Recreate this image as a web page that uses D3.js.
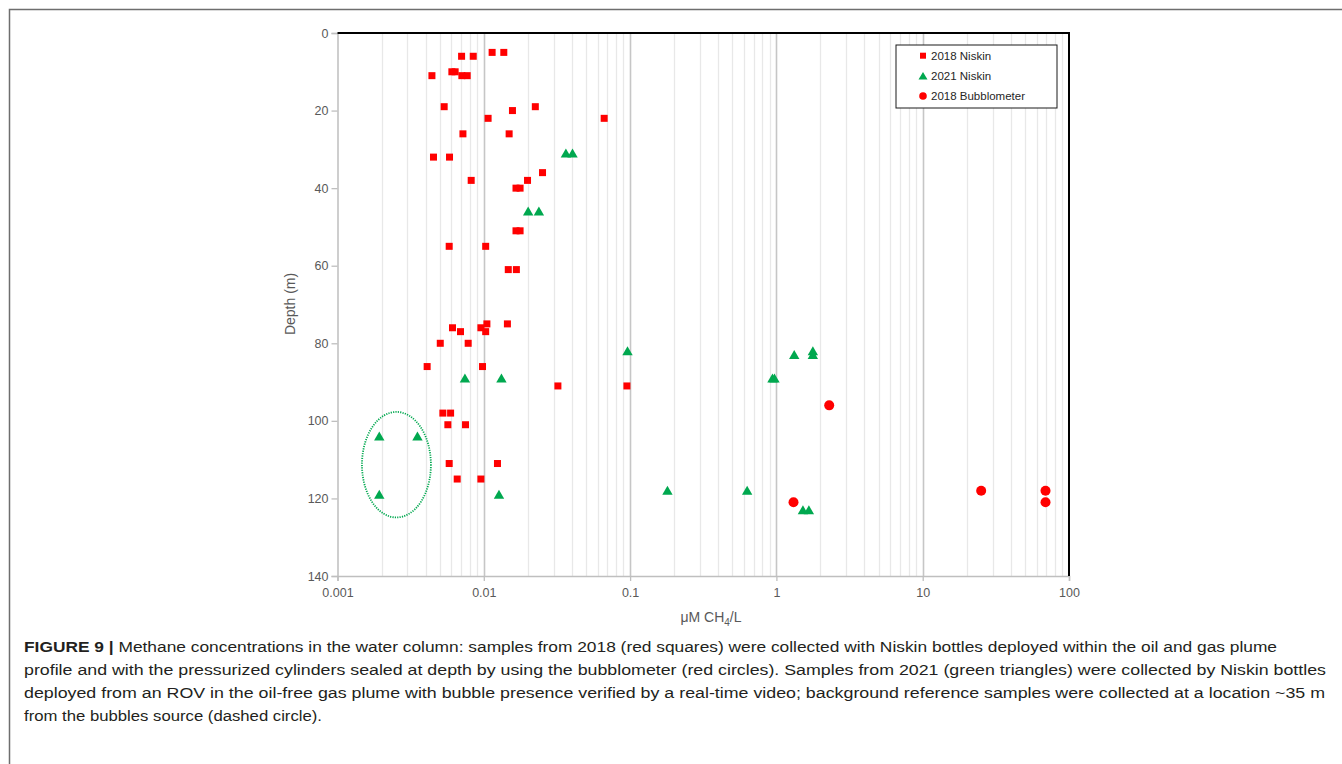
<!DOCTYPE html>
<html><head><meta charset="utf-8">
<script src="https://cdn.jsdelivr.net/npm/d3@7"></script>
<style>
body{margin:0;background:#fff;}
svg{display:block;}
</style></head>
<body>
<svg id="chart" width="1342" height="764"></svg>
<script>
// ---- data (concentration µM CH4/L, depth m) ----
const niskin2018 = [
  [0.00705,6],[0.00847,6],[0.0114,5],[0.0137,5],
  [0.00442,11],[0.00605,10],[0.00637,10],[0.00708,11],[0.0077,11],
  [0.00536,19],[0.0157,20],[0.0225,19],[0.0107,22],[0.0665,22],
  [0.0072,26],[0.0149,26],
  [0.00453,32],[0.00583,32],
  [0.0252,36],[0.0082,38],[0.0199,38],[0.0166,40],[0.0177,40],
  [0.0166,51],[0.0177,51],
  [0.0058,55],[0.0103,55],
  [0.0147,61],[0.0167,61],
  [0.00611,76],[0.00693,77],[0.00955,76],[0.0105,75],[0.0103,77],[0.0145,75],
  [0.00504,80],[0.00782,80],
  [0.0041,86],[0.0098,86],
  [0.0321,91],[0.0951,91],
  [0.00525,98],[0.00593,98],
  [0.00568,101],[0.0075,101],
  [0.0058,111],[0.0124,111],
  [0.00658,115],[0.00955,115]
];
const niskin2021 = [
  [0.0364,31],[0.0404,31],[0.0201,46],[0.0238,46],
  [0.096,82],[1.324,83],[1.775,82],[1.775,83],[0.94,89],[0.97,89],
  [0.00743,89],[0.0132,89],
  [0.00193,104],[0.00352,104],[0.00193,119],[0.0127,119],
  [0.180,118],[0.631,118],[1.518,123],[1.667,123]
];
const bubblometer2018 = [
  [2.296,96],[1.309,121],[25.1,118],[69.1,118],[69.1,121]
];
const xTicks = [0.001, 0.01, 0.1, 1, 10, 100];
const xTickLabels = ["0.001", "0.01", "0.1", "1", "10", "100"];
const yTicks = [0, 20, 40, 60, 80, 100, 120, 140];
const legendLabels = ["2018 Niskin", "2021 Niskin", "2018 Bubblometer"];
// background reference ellipse bounds: [xmin, xmax, depthTop, depthBottom]
const refEllipse = [0.00147, 0.00435, 97.7, 124.9];
const captionLines = [
  ["FIGURE 9 | ", "Methane concentrations in the water column: samples from 2018 (red squares) were collected with Niskin bottles deployed within the oil and gas plume"],
  ["", "profile and with the pressurized cylinders sealed at depth by using the bubblometer (red circles). Samples from 2021 (green triangles) were collected by Niskin bottles"],
  ["", "deployed from an ROV in the oil-free gas plume with bubble presence verified by a real-time video; background reference samples were collected at a location ~35 m"],
  ["", "from the bubbles source (dashed circle)."]
];

// ---- layout ----
const RED = "#FF0000", GREEN = "#00A84F";
const svg = d3.select("#chart");
const L = 337.5, R = 1069, T = 33, B = 576;
const x = d3.scaleLog().domain([0.001, 100]).range([L, R]);
const y = d3.scaleLinear().domain([0, 140]).range([T, B]);
const axisFont = "'Liberation Sans', Arial, sans-serif";

// outer frame
svg.append("path").attr("d", `M9.5,764 V9.5 H1342`).attr("fill","none")
  .attr("stroke","#6e6e6e").attr("stroke-width",1.5);

// gridlines (log minor + major)
const grid = [];
for (let k = -3; k < 2; k++) for (let m = 1; m < 10; m++) grid.push({v: m*Math.pow(10,k), major: m===1});
svg.append("g").selectAll("line").data(grid.filter(d => d.v > 0.001 && d.v < 100)).join("line")
  .attr("x1", d => Math.round(x(d.v))+0.5).attr("x2", d => Math.round(x(d.v))+0.5)
  .attr("y1", T).attr("y2", B)
  .attr("stroke", d => d.major ? "#c6c6c6" : "#e8e8e8").attr("stroke-width", d => d.major ? 1.6 : 1.3);

// left axis
const yAxis = d3.axisLeft(y).tickValues(yTicks).tickSize(6).tickPadding(6);
const gy = svg.append("g").attr("transform", `translate(${L},0)`).call(yAxis);
gy.select(".domain").attr("stroke","#bfbfbf").attr("stroke-width",1.5);
gy.selectAll(".tick line").attr("stroke","#bfbfbf").attr("stroke-width",1.3);
gy.selectAll(".tick text").attr("fill","#595959").attr("font-size",12.5).attr("font-family",axisFont).attr("x",-9);

// bottom axis
const xAxis = d3.axisBottom(x).tickValues(xTicks).tickFormat((d,i) => xTickLabels[i]).tickSize(5).tickPadding(7);
const gx = svg.append("g").attr("transform", `translate(0,${B})`).call(xAxis);
gx.select(".domain").attr("stroke","#bfbfbf").attr("stroke-width",1.5);
gx.selectAll(".tick line").attr("stroke","#bfbfbf").attr("stroke-width",1.3);
gx.selectAll(".tick text").attr("fill","#595959").attr("font-size",12.5).attr("font-family",axisFont);

// top & right black border
svg.append("path").attr("d", `M${L},${T} H${R} V${B}`).attr("fill","none")
  .attr("stroke","#000").attr("stroke-width",2);

// axis titles
svg.append("text").attr("transform", `translate(${295},${304}) rotate(-90)`)
  .attr("text-anchor","middle").attr("fill","#595959").attr("font-size",14)
  .attr("font-family",axisFont).text("Depth (m)");
const xt = svg.append("text").attr("x", 711).attr("y", 622).attr("text-anchor","middle")
  .attr("fill","#595959").attr("font-size",14).attr("font-family",axisFont);
xt.append("tspan").text("\u03BCM CH");
xt.append("tspan").attr("font-size",10).attr("dy",4).text("4");
xt.append("tspan").attr("dy",-4).text("/L");

// reference ellipse
svg.append("ellipse")
  .attr("cx", (x(refEllipse[0]) + x(refEllipse[1]))/2)
  .attr("cy", (y(refEllipse[2]) + y(refEllipse[3]))/2)
  .attr("rx", (x(refEllipse[1]) - x(refEllipse[0]))/2)
  .attr("ry", (y(refEllipse[3]) - y(refEllipse[2]))/2)
  .attr("fill","none").attr("stroke",GREEN).attr("stroke-width",1.8)
  .attr("stroke-dasharray","1.2,1.2");

// markers
const tri = "M0,-4.8 L5.2,4.2 L-5.2,4.2 Z";
const pts = svg.append("g");
pts.selectAll("rect.n18").data(niskin2018).join("rect").attr("class","n18")
  .attr("x", d => x(d[0]) - 3.5).attr("y", d => y(d[1]) - 3.5)
  .attr("width",7).attr("height",7).attr("fill",RED);
pts.selectAll("path.n21").data(niskin2021).join("path").attr("class","n21")
  .attr("transform", d => `translate(${x(d[0])},${y(d[1])})`).attr("d", tri).attr("fill",GREEN);
pts.selectAll("circle.bb").data(bubblometer2018).join("circle").attr("class","bb")
  .attr("cx", d => x(d[0])).attr("cy", d => y(d[1])).attr("r",5).attr("fill",RED);

// legend
const lg = svg.append("g");
lg.append("rect").attr("x",896).attr("y",45).attr("width",161).attr("height",63)
  .attr("fill","#fff").attr("stroke","#1a1a1a").attr("stroke-width",1);
const rows = [55.7, 76, 96];
lg.append("rect").attr("x",920).attr("y",rows[0]-3).attr("width",6).attr("height",6).attr("fill",RED);
lg.append("path").attr("transform",`translate(923,${rows[1]})`).attr("d","M0,-4 L4.5,3.5 L-4.5,3.5 Z").attr("fill",GREEN);
lg.append("circle").attr("cx",923).attr("cy",rows[2]).attr("r",3.8).attr("fill",RED);
lg.selectAll("text").data(legendLabels).join("text")
  .attr("x",931).attr("y",(d,i) => rows[i]+4).attr("font-size",11.5)
  .attr("font-family",axisFont).attr("fill","#262626").text(d => d);

// caption
const capFont = "'Liberation Sans Narrow', 'Liberation Sans', Arial, sans-serif";
const capWidths = [1253, 1302, 1301, 298];
captionLines.forEach((ln, i) => {
  const t = svg.append("text").attr("x", 24).attr("y", 652 + i*23)
    .attr("font-size", 15.5).attr("font-family", capFont).attr("fill","#231f20")
    .attr("textLength", capWidths[i]).attr("lengthAdjust","spacingAndGlyphs");
  if (ln[0]) t.append("tspan").attr("font-weight","bold").text(ln[0]);
  t.append("tspan").text(ln[1]);
});
</script>
</body></html>
